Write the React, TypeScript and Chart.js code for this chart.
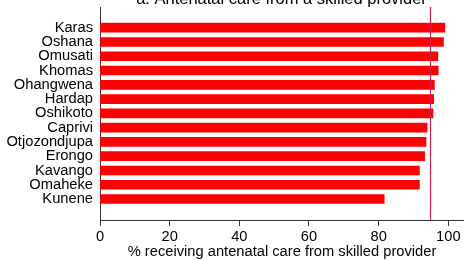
import React, { useEffect, useRef } from "react";
import { Chart, registerables } from "chart.js";

Chart.register(...registerables);

const regions = [
  "Karas", "Oshana", "Omusati", "Khomas", "Ohangwena", "Hardap", "Oshikoto",
  "Caprivi", "Otjozondjupa", "Erongo", "Kavango", "Omaheke", "Kunene",
];
const values = [99.0, 98.6, 97.0, 97.1, 96.0, 95.8, 95.6, 93.9, 93.6, 93.2, 91.7, 91.7, 81.6];
const xTicks = [0, 20, 40, 60, 80, 100];
const referenceValue = 94.8;
const chartTitle = "a. Antenatal care from a skilled provider";
const xAxisTitle = "% receiving antenatal care from skilled provider";

const FONT = "'Liberation Sans', Arial, sans-serif";

export default function App() {
  const ref = useRef<HTMLCanvasElement | null>(null);
  useEffect(() => {
    const canvas = ref.current!;
    const refLine = {
      id: "refLine",
      afterDatasetsDraw(chart: any) {
        const { ctx, chartArea, scales } = chart;
        const x = Math.round(scales.x.getPixelForValue(referenceValue)) + 0.5;
        ctx.save();
        ctx.strokeStyle = "#cf1f50";
        ctx.lineWidth = 1.2;
        ctx.beginPath();
        ctx.moveTo(x, chartArea.top);
        ctx.lineTo(x, chartArea.bottom);
        ctx.stroke();
        ctx.restore();
      },
      afterDraw(chart: any) {
        const { ctx } = chart;
        ctx.save();
        ctx.fillStyle = "#000";
        ctx.font = `16.5px ${FONT}`;
        ctx.textAlign = "center";
        ctx.textBaseline = "alphabetic";
        ctx.fillText(chartTitle, 281.5, 3.5);
        ctx.restore();
      },
    };
    const chart = new Chart(canvas, {
      type: "bar",
      data: {
        datasets: [
          {
            data: values.map((v, i) => ({ x: v, y: i })),
            backgroundColor: "#ff0000",
            borderWidth: 0,
            barThickness: 9,
          },
        ],
      },
      options: {
        indexAxis: "y",
        animation: false,
        responsive: false,
        devicePixelRatio: 1,
        layout: { padding: { top: 7, left: 0, right: 0, bottom: 0 } },
        plugins: { legend: { display: false }, tooltip: { enabled: false }, title: { display: false } },
        scales: {
          y: {
            type: "linear",
            reverse: true,
            offset: false,
            min: -1.45,
            max: 13.47,
            afterBuildTicks: (axis: any) => {
              axis.ticks = regions.map((_, i) => ({ value: i }));
            },
            afterFit: (axis: any) => {
              axis.width = 100;
              axis.paddingTop = 0;
              axis.paddingBottom = 0;
            },
            grid: { display: false, drawTicks: false, tickLength: 0, offset: false },
            border: { display: true, color: "#333", width: 1 },
            ticks: {
              autoSkip: false,
              padding: 7,
              color: "#000",
              font: { family: FONT, size: 14.7 },
              callback: (v: any) => regions[v] ?? "",
            },
          },
          x: {
            type: "linear",
            min: 0,
            max: 104.5,
            afterBuildTicks: (axis: any) => {
              axis.ticks = xTicks.map((v) => ({ value: v }));
            },
            afterFit: (axis: any) => {
              axis.height = 40;
              axis.paddingLeft = 0;
              axis.paddingRight = 0;
            },
            grid: { display: true, drawOnChartArea: false, drawTicks: true, tickLength: 6, color: "#333" },
            border: { display: true, color: "#333", width: 1 },
            ticks: {
              padding: 2,
              color: "#000",
              maxRotation: 0,
              font: { family: FONT, size: 14.7 },
            },
            title: {
              display: true,
              text: xAxisTitle,
              color: "#000",
              font: { family: FONT, size: 14.7 },
              padding: { top: 0, bottom: -1 },
            },
          },
        },
      },
      plugins: [refLine],
    });
    return () => chart.destroy();
  }, []);
  return (
    <div style={{ position: "fixed", left: 0, top: 0, width: 464, height: 260 }}>
      <canvas ref={ref} width={464} height={260} style={{ width: 464, height: 260 }} />
    </div>
  );
}
